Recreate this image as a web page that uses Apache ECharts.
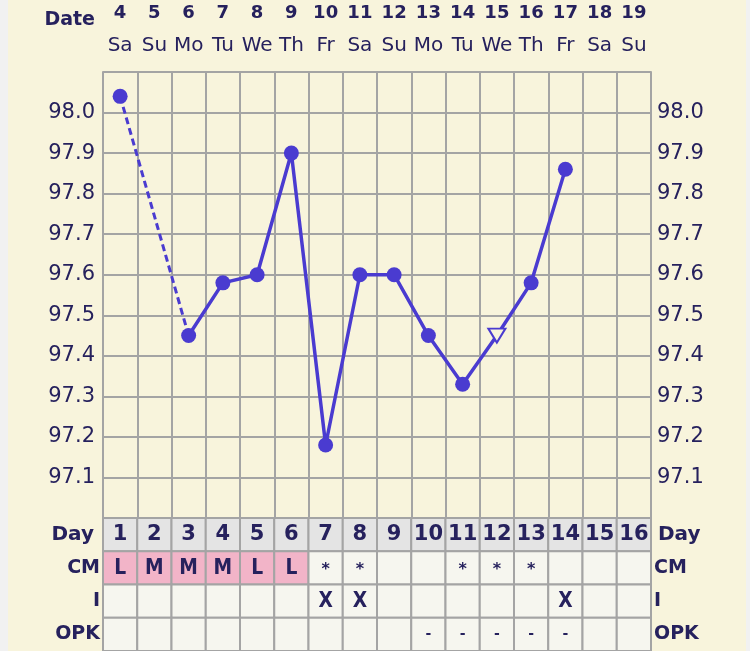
<!DOCTYPE html>
<html>
<head>
<meta charset="utf-8">
<script src="https://cdn.jsdelivr.net/npm/echarts@6/dist/echarts.min.js"></script>
<style>
  html, body { margin: 0; padding: 0; background: #f1f1f1; }
  #chart { position: absolute; left: 8px; top: 0; width: 738px; height: 651px; }
</style>
</head>
<body>
<div id="chart"></div>
<script>
// chart data
const dates = [4, 5, 6, 7, 8, 9, 10, 11, 12, 13, 14, 15, 16, 17, 18, 19]
const weekdays = ['Sa', 'Su', 'Mo', 'Tu', 'We', 'Th', 'Fr', 'Sa', 'Su', 'Mo', 'Tu', 'We', 'Th', 'Fr', 'Sa', 'Su']
const cycleDays = ['1', '2', '3', '4', '5', '6', '7', '8', '9', '10', '11', '12', '13', '14', '15', '16']
const temps = [98.04, null, 97.45, 97.58, 97.60, 97.90, 97.18, 97.60, 97.60, 97.45, 97.33, 97.45, 97.58, 97.86, null, null]
const openMarkerDays = ['12']   // hollow triangle marker
const cmRow = ['L', 'M', 'M', 'M', 'L', 'L', '*', '*', '', '', '*', '*', '*', '', '', '']
const iRow = ['', '', '', '', '', '', 'X', 'X', '', '', '', '', '', 'X', '', '']
const opkRow = ['', '', '', '', '', '', '', '', '', '-', '-', '-', '-', '-', '', '']
const rowNames = ['Day', 'CM', 'I', 'OPK']
const tempMin = 97.0
const tempMax = 98.1
const tempStep = 0.1

const INK = '#26215d'
const LINE = '#4a3bd0'
const BG = '#f8f4dc'
const GRID = '#a4a4a4'

// dashed line only bridges the gaps of missing readings
const bridge = temps.map(() => null)
let last = -1
temps.forEach((v, i) => {
  if (v == null) return
  if (last >= 0 && i - last > 1) { bridge[last] = temps[last]; bridge[i] = v }
  last = i
})

const solidData = temps.map((v, i) => {
  if (v == null || !openMarkerDays.includes(cycleDays[i])) return v
  return {
    value: v, symbol: 'triangle', symbolRotate: 180, symbolSize: [17, 14],
    itemStyle: { color: BG, borderColor: LINE, borderWidth: 2 }
  }
})

const rows = [cycleDays, cmRow, iRow, opkRow]
const cells = []
rows.forEach((r, ri) => r.forEach((t, di) => cells.push([di, ri, t])))

const chart = echarts.init(document.getElementById('chart'))

const tempLabel = {
  color: INK, fontSize: 21, fontFamily: 'DejaVu Sans',
  formatter: v => (v > tempMin + 0.05 && v < tempMax - 0.05) ? v.toFixed(1) : ''
}

const rowLabel = (side) => ({
  color: INK, fontWeight: 'bold', fontFamily: 'DejaVu Sans', fontSize: 19,
  margin: 3,
  formatter: v => v === 'Day' ? '{d|' + v + '}' : v,
  rich: { d: { fontSize: 20, fontWeight: 'bold', fontFamily: 'DejaVu Sans', color: INK,
    padding: side === 'left' ? [0, 6, 0, 0] : [0, 0, 0, 4] } }
})

function cellText(row, txt) {
  if (row === 'Day') return { font: 'bold 21px "DejaVu Sans"', sx: 1, dy: 0 }
  if (txt === '*') return { font: 'bold 16px "DejaVu Sans"', sx: 1, dy: 2 }
  if (txt === '-') return { font: 'bold 14px "DejaVu Sans"', sx: 1, dy: 0 }
  return { font: 'bold 22px "DejaVu Sans"', sx: 0.85, dy: 0 }
}

chart.setOption({
  animation: false,
  backgroundColor: BG,
  grid: [
    { left: 95, top: 72, width: 548, height: 446 },
    { left: 95, top: 518, width: 548, height: 136 }
  ],
  xAxis: [
    {
      type: 'category', gridIndex: 0, position: 'top', data: weekdays,
      axisLine: { show: false }, axisTick: { show: false },
      axisLabel: { color: INK, fontSize: 20, fontFamily: 'DejaVu Sans', margin: 26, verticalAlign: 'middle', interval: 0 },
      splitLine: { show: true, lineStyle: { color: GRID, width: 2 } }
    },
    {
      type: 'category', gridIndex: 0, position: 'top', offset: 52, data: dates,
      axisLine: { show: false }, axisTick: { show: false },
      axisLabel: { color: INK, fontSize: 18, fontWeight: 'bold', fontFamily: 'DejaVu Sans', margin: 7, verticalAlign: 'middle', interval: 0 },
      name: 'Date', nameLocation: 'start', nameGap: 8,
      nameTextStyle: { color: INK, fontSize: 19, fontWeight: 'bold', fontFamily: 'DejaVu Sans', verticalAlign: 'middle' }
    },
    {
      type: 'category', gridIndex: 1, data: cycleDays, show: false
    }
  ],
  yAxis: [
    {
      type: 'value', gridIndex: 0, position: 'left', min: tempMin, max: tempMax, interval: tempStep,
      axisLine: { show: true, lineStyle: { color: GRID, width: 2 } }, axisTick: { show: false },
      axisLabel: Object.assign({ margin: 8 }, tempLabel),
      splitLine: { show: true, lineStyle: { color: GRID, width: 2 } }
    },
    {
      type: 'value', gridIndex: 0, position: 'right', min: tempMin, max: tempMax, interval: tempStep,
      axisLine: { show: true, lineStyle: { color: GRID, width: 2 } }, axisTick: { show: false },
      axisLabel: Object.assign({ margin: 6 }, tempLabel),
      splitLine: { show: false }
    },
    {
      type: 'category', gridIndex: 1, position: 'left', inverse: true, data: rowNames,
      axisLine: { show: false }, axisTick: { show: false }, axisLabel: rowLabel('left')
    },
    {
      type: 'category', gridIndex: 1, position: 'right', inverse: true, data: rowNames,
      axisLine: { show: false }, axisTick: { show: false }, axisLabel: rowLabel('right')
    }
  ],
  series: [
    {
      name: 'gap', type: 'line', xAxisIndex: 0, yAxisIndex: 0, data: bridge,
      connectNulls: true, showSymbol: false, z: 2,
      lineStyle: { color: LINE, width: 3, type: [7, 4] }
    },
    {
      name: 'temp', type: 'line', xAxisIndex: 0, yAxisIndex: 0, data: solidData,
      symbol: 'circle', symbolSize: 15, z: 3,
      itemStyle: { color: LINE },
      lineStyle: { color: LINE, width: 3.5 }
    },
    {
      name: 'table', type: 'custom', xAxisIndex: 2, yAxisIndex: 2, data: cells,
      renderItem: (params, api) => {
        const c = api.coord([api.value(0), api.value(1)])
        const s = api.size([1, 1])
        const row = rowNames[api.value(1)]
        const txt = cells[params.dataIndex][2]
        let fill = '#f6f6ef'
        if (row === 'Day') fill = '#e4e4e4'
        else if (row === 'CM' && /^[LMH]$/.test(txt)) fill = '#f2b4c8'
        const t = cellText(row, txt)
        return {
          type: 'group',
          children: [
            { type: 'rect', shape: { x: c[0] - s[0] / 2, y: c[1] - s[1] / 2, width: s[0], height: s[1] },
              style: { fill: fill, stroke: GRID, lineWidth: 2 } },
            { type: 'text', x: c[0], y: c[1] + t.dy, scaleX: t.sx,
              style: { text: txt, fill: INK, font: t.font, align: 'center', verticalAlign: 'middle' } }
          ]
        }
      }
    }
  ]
})
</script>
</body>
</html>
